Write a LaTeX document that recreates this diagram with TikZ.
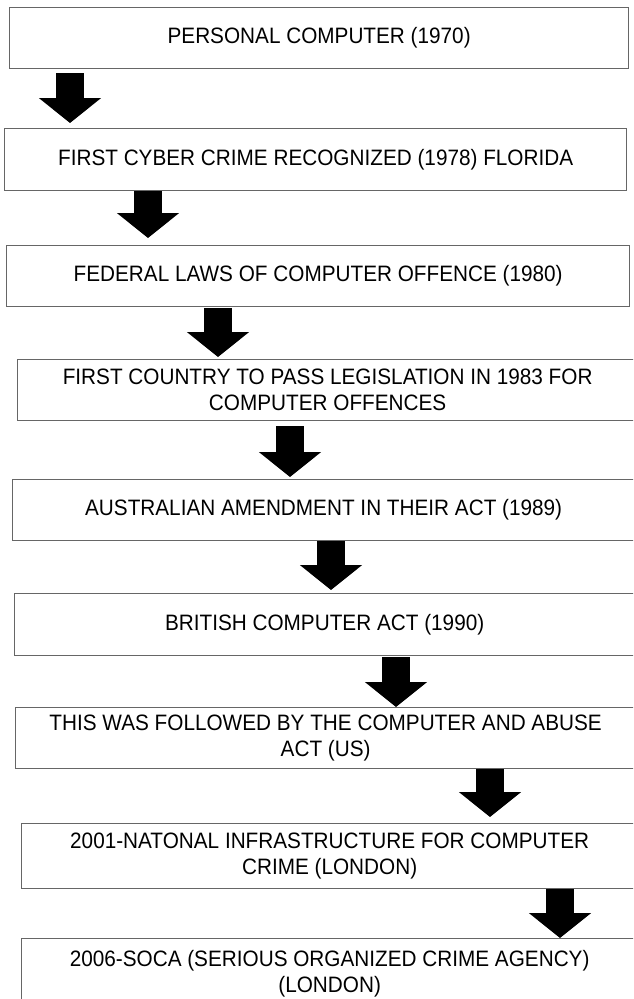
\documentclass[tikz,border=0pt]{standalone}
\usepackage{fontspec}
\setmainfont[FakeStretch=0.93]{Liberation Sans}
\usetikzlibrary{arrows.meta}
\begin{document}
\begin{tikzpicture}[x=1pt,y=-1pt,
  stage/.style={draw=black!60, line width=1.3pt, rectangle, inner sep=0pt,
    align=center, anchor=north west, font=\fontsize{22.3}{26}\selectfont},
  flow/.style={black, line width=28pt, -{Triangle[width=61pt,length=25pt]}}]
\useasboundingbox (0,0) rectangle (633,999);
\clip (0,0) rectangle (633,999);

% timeline stages
\node[stage, minimum width=619pt, minimum height=61pt] (b1) at (9,7)
  {PERSONAL COMPUTER (1970)};
\node[stage, minimum width=622pt, minimum height=62pt] (b2) at (4,128)
  {FIRST CYBER CRIME RECOGNIZED (1978) FLORIDA};
\node[stage, minimum width=623pt, minimum height=61pt] (b3) at (6,245)
  {FEDERAL LAWS OF COMPUTER OFFENCE (1980)};
\node[stage, minimum width=620pt, minimum height=61pt] (b4) at (17,359)
  {FIRST COUNTRY TO PASS LEGISLATION IN 1983 FOR\\COMPUTER OFFENCES};
\node[stage, minimum width=622pt, minimum height=61pt] (b5) at (12,479)
  {AUSTRALIAN AMENDMENT IN THEIR ACT (1989)};
\node[stage, minimum width=620pt, minimum height=62pt] (b6) at (14,593)
  {BRITISH COMPUTER ACT (1990)};
\node[stage, minimum width=620pt, minimum height=61pt] (b7) at (15,707)
  {THIS WAS FOLLOWED BY THE COMPUTER AND ABUSE\\ACT (US)};
\node[stage, minimum width=616pt, minimum height=65pt] (b8) at (21,823)
  {2001-NATONAL INFRASTRUCTURE FOR COMPUTER\\CRIME (LONDON)};
\node[stage, minimum width=616pt, minimum height=70pt] (b9) at (21,938)
  {2006-SOCA (SERIOUS ORGANIZED CRIME AGENCY)\\(LONDON)};

% horizontal positions of the block arrows
\coordinate (a1) at (70,0);
\coordinate (a2) at (148,0);
\coordinate (a3) at (218,0);
\coordinate (a4) at (290,0);
\coordinate (a5) at (331,0);
\coordinate (a6) at (396,0);
\coordinate (a7) at (490,0);
\coordinate (a8) at (560,0);

% block arrows between stages
\draw[flow, shorten <=4pt, shorten >=5pt] (b1.south -| a1) -- (b2.north -| a1);
\draw[flow, shorten <=0pt, shorten >=7pt] (b2.south -| a2) -- (b3.north -| a2);
\draw[flow, shorten <=1pt, shorten >=2pt] (b3.south -| a3) -- (b4.north -| a3);
\draw[flow, shorten <=5pt, shorten >=2pt] (b4.south -| a4) -- (b5.north -| a4);
\draw[flow, shorten <=0pt, shorten >=3pt] (b5.south -| a5) -- (b6.north -| a5);
\draw[flow, shorten <=1pt, shorten >=0pt] (b6.south -| a6) -- (b7.north -| a6);
\draw[flow, shorten <=0pt, shorten >=6pt] (b7.south -| a7) -- (b8.north -| a7);
\draw[flow, shorten <=0pt, shorten >=0pt] (b8.south -| a8) -- (b9.north -| a8);
\end{tikzpicture}
\end{document}
